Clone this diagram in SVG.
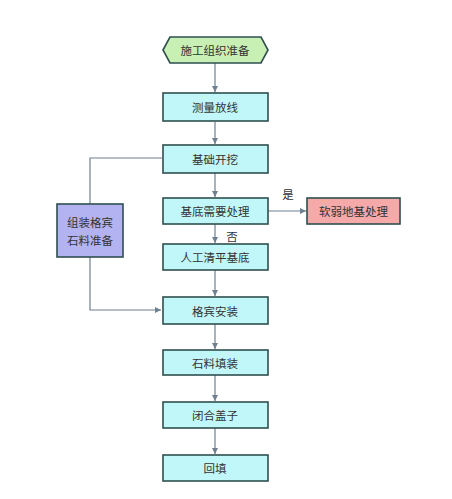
<svg xmlns="http://www.w3.org/2000/svg" width="452" height="499" viewBox="0 0 452 499">
<defs>
<marker id="arr" markerWidth="8" markerHeight="8" refX="7" refY="4" orient="auto" markerUnits="userSpaceOnUse">
<path d="M1,1 L7,4 L1,7 Z" fill="#6f8090"/>
</marker>
<style>
.box{fill:#c2f7f9;stroke:#2f4f4f;stroke-width:1.6}
.t{font-family:"Noto Sans CJK SC","Liberation Sans",sans-serif;font-size:11.5px;fill:#333;text-anchor:middle;dominant-baseline:central}
.c{fill:none;stroke:#6f8090;stroke-width:1.2}
</style>
</defs>
<rect width="452" height="499" fill="#fff"/>
<g id="connectors">
<path class="c" d="M215,63 V92" marker-end="url(#arr)"/>
<path class="c" d="M215,122 V144" marker-end="url(#arr)"/>
<path class="c" d="M215,173 V197" marker-end="url(#arr)"/>
<path class="c" d="M215,224 V243" marker-end="url(#arr)"/>
<path class="c" d="M215,270 V296" marker-end="url(#arr)"/>
<path class="c" d="M215,324 V349" marker-end="url(#arr)"/>
<path class="c" d="M215,375 V401" marker-end="url(#arr)"/>
<path class="c" d="M215,428 V454" marker-end="url(#arr)"/>
<path class="c" d="M268,211 H306" marker-end="url(#arr)"/>
<path class="c" d="M162,158 H90 V204"/>
<path class="c" d="M90,257 V310 H161" marker-end="url(#arr)"/>
<text class="t" x="288" y="194">是</text>
<text class="t" x="232" y="236">否</text>
</g>
<g id="start">
<polygon points="163,50 170,37 261,37 268,50 261,63 170,63" fill="#c9f0b4" stroke="#2f4f4f" stroke-width="1.6"/>
<text class="t" x="215" y="50">施工组织准备</text>
</g>
<g id="n1"><rect class="box" x="163" y="93" width="105" height="28"/><text class="t" x="215" y="107">测量放线</text></g>
<g id="n2"><rect class="box" x="163" y="145" width="105" height="28"/><text class="t" x="215" y="159">基础开挖</text></g>
<g id="n3"><rect class="box" x="163" y="198" width="105" height="26"/><text class="t" x="215" y="211">基底需要处理</text></g>
<g id="n4"><rect class="box" x="163" y="244" width="105" height="26"/><text class="t" x="215" y="257">人工清平基底</text></g>
<g id="n5"><rect class="box" x="163" y="297" width="105" height="27"/><text class="t" x="215" y="310.5">格宾安装</text></g>
<g id="n6"><rect class="box" x="163" y="350" width="105" height="25"/><text class="t" x="215" y="362.5">石料填装</text></g>
<g id="n7"><rect class="box" x="163" y="402" width="105" height="26"/><text class="t" x="215" y="415">闭合盖子</text></g>
<g id="n8"><rect class="box" x="163" y="455" width="105" height="26"/><text class="t" x="215" y="468">回填</text></g>
<g id="soft"><rect x="307" y="198" width="93" height="26" fill="#f5a9a9" stroke="#2f4f4f" stroke-width="1.6"/><text class="t" x="353.5" y="211">软弱地基处理</text></g>
<g id="prep"><rect x="57" y="204" width="66" height="53" fill="#b3b3f2" stroke="#2f4f4f" stroke-width="1.6"/><text class="t" x="90" y="222">组装格宾</text><text class="t" x="90" y="240">石料准备</text></g>
</svg>
